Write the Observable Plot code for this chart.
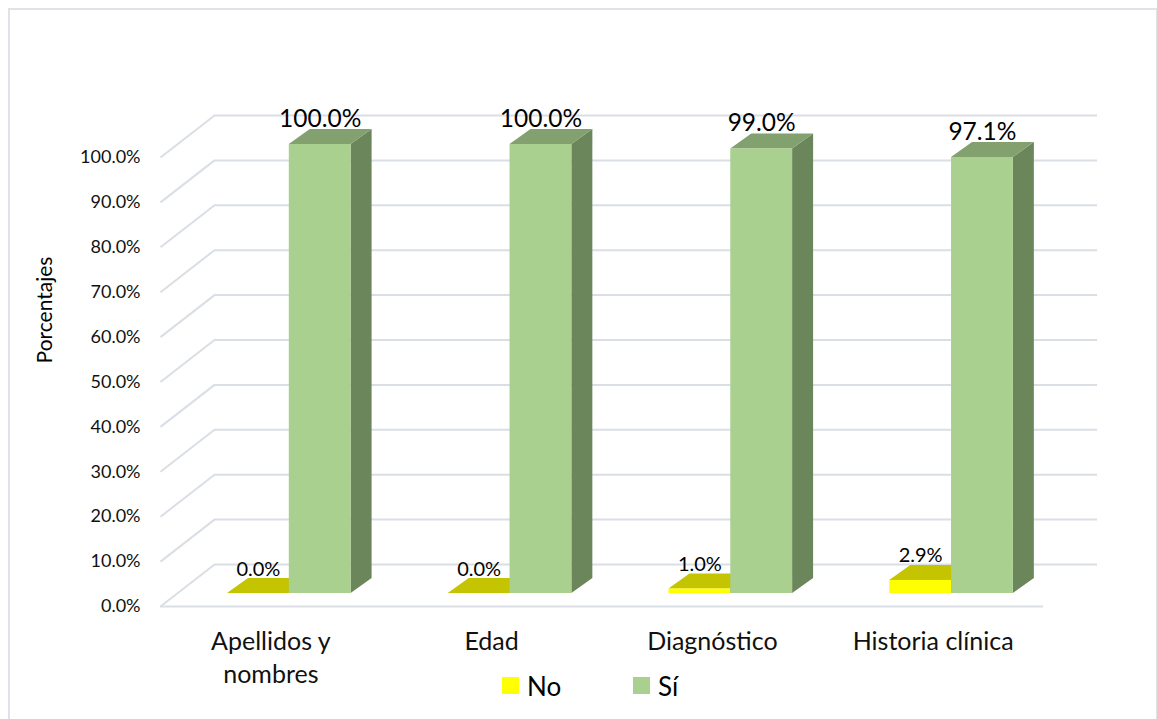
<!DOCTYPE html>
<html>
<head>
<meta charset="utf-8">
<script src="https://cdn.jsdelivr.net/npm/d3@7"></script>
<script src="https://cdn.jsdelivr.net/npm/@observablehq/plot@0.6"></script>
<style>
  body { margin: 0; background: #fff; font-family: Lato, "Open Sans", sans-serif; }
  #wrap { position: relative; width: 1157px; height: 719px; overflow: hidden; }
  #legend { position: relative; height: 54px; }
  .sw { position: absolute; top: 12px; width: 17px; height: 17px; }
  .lt { position: absolute; top: 8px; font-size: 26px; line-height: 26px; color: #000; }
  #border { position: absolute; left: 8px; top: 8px; width: 1150px; height: 730px; border: 2px solid #dfe3e8; pointer-events: none; box-sizing: border-box; }
</style>
</head>
<body>
<div id="wrap">
  <div id="chart"></div>
  <div id="legend">
    <div class="sw" style="left:502px;background:#FFFF00"></div>
    <div class="lt" style="left:527px">No</div>
    <div class="sw" style="left:633px;background:#A9D08E"></div>
    <div class="lt" style="left:658px">Sí</div>
  </div>
  <div id="border"></div>
</div>
<script>
// ---- data ----
const categories = ["Apellidos y\nnombres", "Edad", "Diagnóstico", "Historia clínica"];
const seriesNames = ["No", "Sí"];
const noValues = [0.0, 0.0, 1.0, 2.9];
const siValues = [100.0, 100.0, 99.0, 97.1];
const yTicks = [0, 10, 20, 30, 40, 50, 60, 70, 80, 90, 100];

// ---- layout / style ----
const W = 1157, H = 665, ML = 160, MR = 114, MT = 157, MB = 59;
const pxX = (W - ML - MR) / categories.length;
const pxY = (H - MT - MB) / 100;
const FDX = 14, FDY = -13;           // front-face depth offset (px)
const DX = 21 / pxX, DY = 15 / pxY;  // bar depth in data units
const WX = 54 / pxX, WY = 42 / pxY;  // wall depth in data units
const grid = "#dadee5";
const colors = {
  No: {front: "#FFFF00", top: "#C4C400", side: "#9B9B00"},
  "Sí": {front: "#A9D08E", top: "#82A16E", side: "#6B865A"}
};
const slot = {No: [0.24, 0.52], "Sí": [0.52, 0.80]};

const bars = categories.flatMap((c, i) => seriesNames.map(s => ({
  id: i + s, s, x1: i + slot[s][0], x2: i + slot[s][1],
  v: s === "No" ? noValues[i] : siValues[i]
})));
const sides = bars.flatMap(b => [
  {id: b.id, s: b.s, x: b.x2, y1: 0, y2: b.v},
  {id: b.id, s: b.s, x: b.x2 + DX, y1: DY, y2: b.v + DY}
]);
const tops = bars.flatMap(b => [
  {id: b.id, s: b.s, y: b.v, x1: b.x1, x2: b.x2},
  {id: b.id, s: b.s, y: b.v + DY, x1: b.x1 + DX, x2: b.x2 + DX}
]);

const faceMarks = seriesNames.flatMap(s => [
  Plot.areaY(sides.filter(d => d.s === s), {x: "x", y1: "y1", y2: "y2", z: "id", fill: colors[s].side, dx: FDX, dy: FDY}),
  Plot.areaX(tops.filter(d => d.s === s), {y: "y", x1: "x1", x2: "x2", z: "id", fill: colors[s].top, dx: FDX, dy: FDY}),
  Plot.rect(bars.filter(d => d.s === s), {x1: "x1", x2: "x2", y1: 0, y2: "v", fill: colors[s].front, dx: FDX, dy: FDY})
]);

const fmt = v => v.toFixed(1) + "%";

const chart = Plot.plot({
  width: W, height: H,
  marginLeft: ML, marginRight: MR, marginTop: MT, marginBottom: MB,
  style: {fontFamily: "Lato, 'Open Sans', sans-serif", color: "#000", background: "transparent", overflow: "visible"},
  x: {type: "linear", domain: [0, categories.length]},
  y: {domain: [0, 100]},
  marks: [
    // walls grid
    Plot.ruleY(yTicks, {x1: 0, x2: categories.length, dx: 54, dy: -42, stroke: grid, strokeWidth: 2}),
    Plot.link(yTicks, {x1: 0, y1: d => d, x2: WX, y2: d => d + WY, stroke: grid, strokeWidth: 2}),
    Plot.ruleY([0], {x1: 0, x2: categories.length, stroke: grid, strokeWidth: 2}),
    // bars
    ...faceMarks,
    // value labels
    Plot.text(bars.filter(d => d.s === "Sí"), {x: d => (d.x1 + d.x2) / 2, y: "v", text: d => fmt(d.v), dx: FDX, dy: FDY - 18, lineAnchor: "bottom", fontSize: 24.5, fill: "#000"}),
    Plot.text(bars.filter(d => d.s === "No"), {x: d => (d.x1 + d.x2) / 2, y: "v", text: d => fmt(d.v), dx: FDX, dy: FDY - 18, lineAnchor: "bottom", fontSize: 20, fill: "#000"}),
    // axes
    Plot.axisY(yTicks, {tickSize: 0, tickPadding: 20, tickFormat: fmt, fontSize: 18, label: null, fill: "#111"}),
    Plot.axisX(categories.map((c, i) => i + 0.5), {tickSize: 0, tickPadding: 20, tickFormat: t => categories[Math.floor(t)], fontSize: 25, lineHeight: 1.32, label: null, fill: "#111"}),
    Plot.text(["Porcentajes"], {frameAnchor: "left", textAnchor: "middle", rotate: -90, dx: -115, dy: -72, fontSize: 21, fill: "#000"})
  ]
});
document.getElementById("chart").appendChild(chart);
</script>
</body>
</html>
